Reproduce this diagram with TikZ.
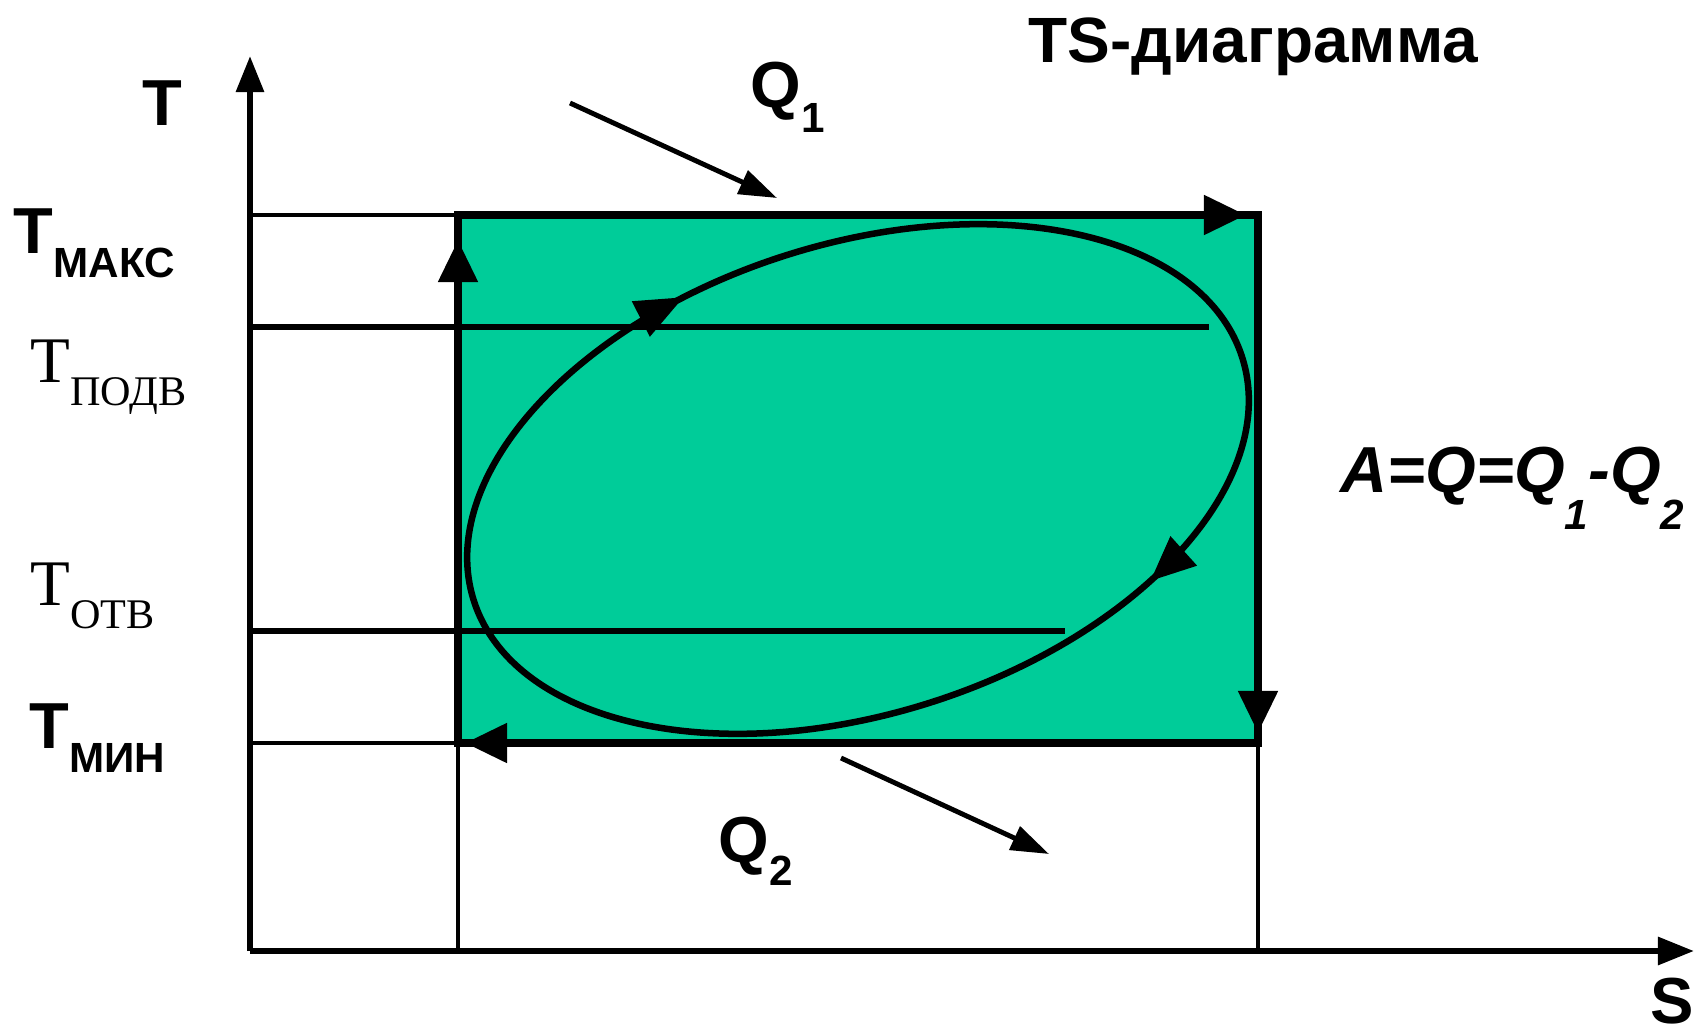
\documentclass[tikz,border=0pt]{standalone}
\usepackage{fontspec}
\setmainfont{Liberation Serif}
\newfontfamily\arialfont{Liberation Sans}
\usepackage{tikz}
\usetikzlibrary{arrows.meta, decorations.markings}
\definecolor{cyclegreen}{HTML}{00CC99}
\newcommand{\labsize}{\fontsize{18.5}{22}\selectfont}
\newcommand{\subsize}{\fontsize{12}{14}\selectfont}

\begin{document}
\begin{tikzpicture}[x=0.01cm, y=0.01cm,
    axis/.style={line width=1.7pt, -{Triangle[length=0.36cm, width=0.27cm]}},
    thinline/.style={line width=1.15pt},
    levelline/.style={line width=1.7pt},
    cycleside/.style={line width=2.3pt, -{Triangle[length=0.42cm, width=0.38cm]}},
    heatarrow/.style={line width=1.4pt, -{Triangle[length=0.38cm, width=0.25cm]}},
    boldlabel/.style={anchor=base west, inner sep=0pt, font=\arialfont\bfseries\labsize},
    seriflabel/.style={anchor=base west, inner sep=0pt, font=\labsize}]
  \useasboundingbox (0,0) rectangle (1696,1032);

  \coordinate (O) at (250,81);
  \coordinate (Ttop) at (250,976);
  \coordinate (Send) at (1694,81);
  \coordinate (SW) at (458,289);
  \coordinate (NW) at (458,817);
  \coordinate (NE) at (1258,817);
  \coordinate (SE) at (1258,289);
  \coordinate (maxL) at (250,817);
  \coordinate (podvL) at (250,705);
  \coordinate (podvR) at (1209,705);
  \coordinate (otvL) at (250,401);
  \coordinate (otvR) at (1065,401);
  \coordinate (minL) at (250,289);
  \coordinate (SWdown) at (458,81);
  \coordinate (SEdown) at (1258,81);

  \fill[cyclegreen] (SW) rectangle (NE);

  \draw[thinline] (maxL) -- (NW);
  \draw[thinline] (minL) -- (SW);
  \draw[thinline] (SW) -- (SWdown);
  \draw[thinline] (SE) -- (SEdown);
  \draw[levelline] (podvL) -- (podvR);
  \draw[levelline] (otvL) -- (otvR);

  \draw[axis] (O) -- (Ttop);
  \draw[axis] (O) -- (Send);

  \draw[line width=2.3pt] (SW) rectangle (NE);
  \draw[cycleside, shorten >=0.12cm] (NW) -- (NE);
  \draw[cycleside, shorten >=0.10cm] (NE) -- (SE);
  \draw[cycleside, shorten >=0.07cm] (SE) -- (SW);
  \draw[cycleside, shorten >=0.25cm] (SW) -- (NW);

  \draw[line width=1.85pt, rotate around={17.5:(858,553)},
        postaction={decorate},
        decoration={markings,
          mark=at position 0.305 with {\arrowreversed{Triangle[length=0.48cm, width=0.38cm]}},
          mark=at position 0.875 with {\arrowreversed{Triangle[length=0.45cm, width=0.38cm]}}}]
    (858,553) ellipse [x radius=403, y radius=235];

  \coordinate (q1from) at (570,929);
  \coordinate (q1to) at (777,834);
  \coordinate (q2from) at (841,274);
  \coordinate (q2to) at (1049,178);
  \draw[heatarrow] (q1from) -- (q1to);
  \draw[heatarrow] (q2from) -- (q2to);

  \node[boldlabel] (Tlab) at (142,907) {T};
  \node[boldlabel] (Tmax) at (13,779) {T\raisebox{-0.24cm}{\subsize МАКС}};
  \node[seriflabel] (Tpodv) at (30,650) {T\raisebox{-0.23cm}{\subsize ПОДВ}};
  \node[seriflabel] (Totv) at (30,427) {T\raisebox{-0.23cm}{\subsize ОТВ}};
  \node[boldlabel] (Tmin) at (29,284) {T\raisebox{-0.24cm}{\subsize МИН}};
  \node[boldlabel] (Slab) at (1650,9) {S};
  \node[boldlabel, font=\arialfont\bfseries\fontsize{18.2}{22}\selectfont] (title) at (1028,969) {TS-диаграмма};
  \node[boldlabel] (Q1) at (750,925) {Q\raisebox{-0.25cm}{\subsize 1}};
  \node[boldlabel] (Q2) at (718,170) {Q\raisebox{-0.23cm}{\subsize 2}};
  \node[boldlabel, font=\arialfont\bfseries\itshape\labsize] (work) at (1340,540)
    {A=Q=Q\raisebox{-0.37cm}{\subsize 1}-Q\raisebox{-0.37cm}{\subsize 2}};
\end{tikzpicture}
\end{document}
